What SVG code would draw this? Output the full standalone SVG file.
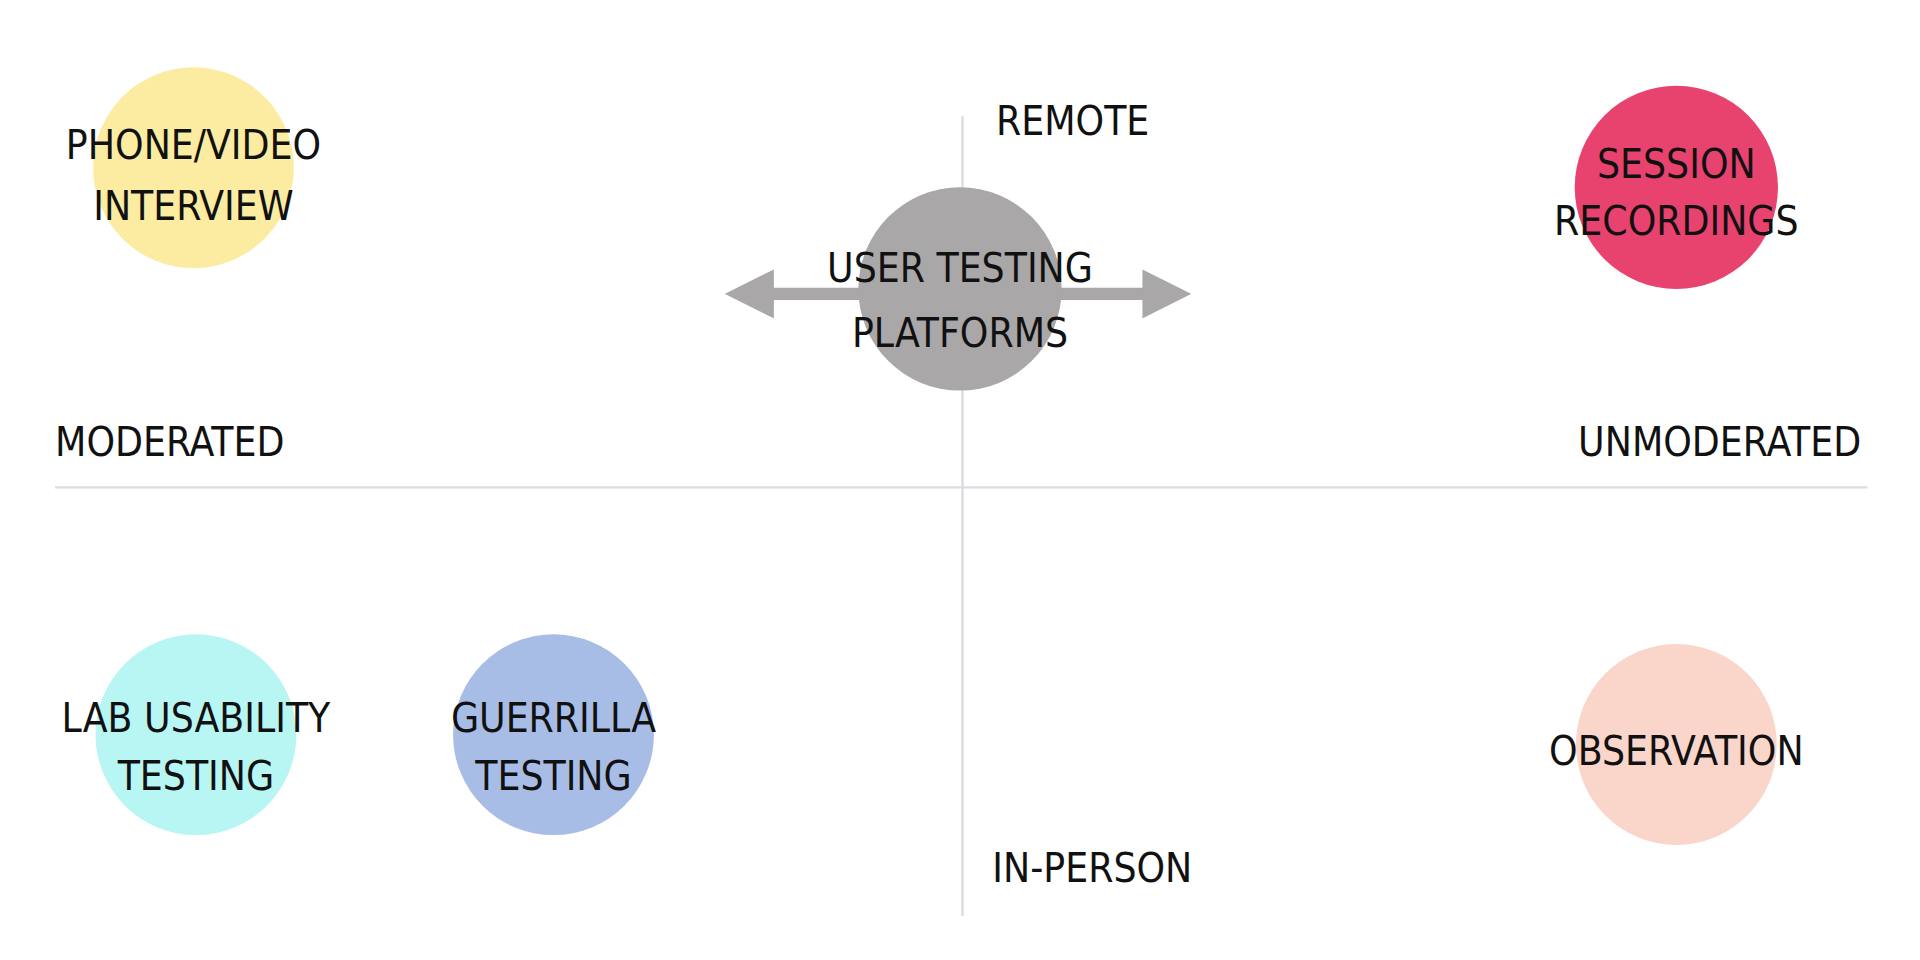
<svg xmlns="http://www.w3.org/2000/svg" width="1920" height="960" viewBox="0 0 1920 960">
<style>
text{font-family:"DejaVu Sans Condensed","DejaVu Sans",sans-serif;font-stretch:condensed;font-size:33px;fill:#111;text-anchor:middle}
.ax{stroke:#dcdbe0;stroke-width:2}
</style>
<defs>
<marker id="ah" viewBox="0 0 10 10" refX="5" refY="5" markerWidth="4" markerHeight="4" orient="auto-start-reverse"><path d="M0,0L10,5L0,10z" fill="#a9a7a8"/></marker>
</defs>
<rect width="1920" height="960" fill="#fff"/>
<g transform="scale(1.2245)">
<g id="axes">
<line class="ax" x1="786" y1="95" x2="786" y2="748"/>
<line class="ax" x1="45" y1="398" x2="1525" y2="398"/>
<text x="876" y="110">REMOTE</text>
<text x="892" y="720">IN-PERSON</text>
<text x="45" y="372" style="text-anchor:start">MODERATED</text>
<text x="1520" y="372" style="text-anchor:end">UNMODERATED</text>
</g>
<g id="connectors">
<line x1="612" y1="240" x2="953" y2="240" stroke="#a9a7a8" stroke-width="10" marker-start="url(#ah)" marker-end="url(#ah)"/>
</g>
<g id="n-platforms"><circle cx="784" cy="236" r="83" fill="#a9a7a8"/><text x="784" y="230">USER TESTING</text><text x="784" y="283">PLATFORMS</text></g>
<g id="n-phone"><circle cx="158" cy="137" r="82" fill="#fbeca1"/><text x="158" y="130">PHONE/VIDEO</text><text x="158" y="180">INTERVIEW</text></g>
<g id="n-session"><circle cx="1369" cy="153" r="83" fill="#e8436e"/><text x="1369" y="145">SESSION</text><text x="1369" y="192">RECORDINGS</text></g>
<g id="n-lab"><circle cx="160" cy="600" r="82" fill="#b8f6f4"/><text x="160" y="598">LAB USABILITY</text><text x="160" y="645">TESTING</text></g>
<g id="n-guerrilla"><circle cx="452" cy="600" r="82" fill="#a8bde6"/><text x="452" y="598">GUERRILLA</text><text x="452" y="645">TESTING</text></g>
<g id="n-observation"><circle cx="1369" cy="608" r="82" fill="#f9d5ca"/><text x="1369" y="625">OBSERVATION</text></g>
</g>
</svg>
